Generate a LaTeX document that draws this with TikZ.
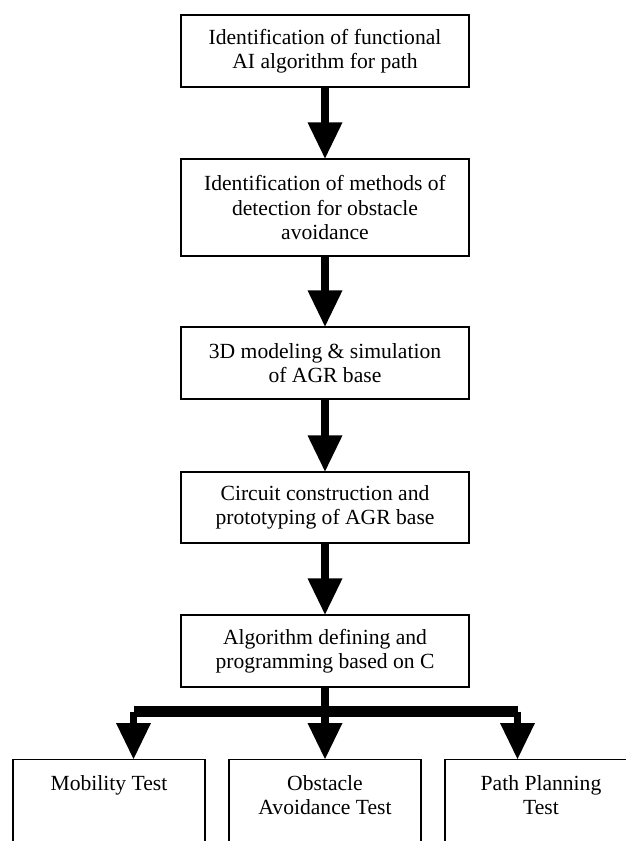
\documentclass[tikz,border=0pt]{standalone}
\usepackage{fontspec}
\setmainfont{Liberation Serif}
\usetikzlibrary{calc}
\tikzset{
  txt/.style={font=\fontsize{21.6bp}{24.5bp}\selectfont},
  box/.style={txt, draw, line width=1.2bp, fill=white, align=center, inner sep=0pt, minimum width=288bp},
  panel/.style={draw, line width=1.2bp, inner sep=0pt, minimum width=192bp, minimum height=140bp, anchor=north},
  lbl/.style={txt, align=center, inner sep=0pt, anchor=north},
  stemline/.style={line width=7.5bp},
  barline/.style={line width=11bp},
  headfill/.style={fill=black}
}
\newcommand\fatarrow[2]{%
  \draw[stemline] (#1) -- ($(#2)+(0,-35)$);
  \fill[headfill] ($(#2)+(-17.5,-36)$) -- (#2) -- ($(#2)+(17.5,-36)$) -- cycle;}
\begin{document}
\begin{tikzpicture}[x=1bp,y=-1bp]
\useasboundingbox (0,0) rectangle (626,841);
\clip (0,0) rectangle (626,841);
\fill[white] (0,0) rectangle (626,841);
\node[box, minimum height=72bp] (b1) at (325,51) {Identification of functional\\AI algorithm for path};
\node[box, minimum height=97bp] (b2) at (325,207.5) {Identification of methods of\\detection for obstacle\\avoidance};
\node[box, minimum height=72bp] (b3) at (325,363) {3D modeling \& simulation\\of AGR base};
\node[box, minimum height=71bp] (b4) at (325,507.5) {Circuit construction and\\prototyping of AGR base};
\node[box, minimum height=72bp] (b5) at (325,651) {Algorithm defining and\\programming based on C};
\node[panel] (tL) at (109,759) {};
\node[panel] (tM) at (325,759) {};
\node[panel] (tR) at (541,759) {};
\node[lbl] (lL) at ($(tL.north)+(0,16)$) {Mobility Test};
\node[lbl] (lM) at ($(tM.north)+(0,16)$) {Obstacle\\Avoidance Test};
\node[lbl] (lR) at ($(tR.north)+(0,16)$) {Path Planning\\Test};
\fatarrow{b1.south}{b2.north}
\fatarrow{b2.south}{b3.north}
\fatarrow{b3.south}{b4.north}
\fatarrow{b4.south}{b5.north}
\coordinate (jL) at (133.5,711.5);
\coordinate (jR) at (517.5,711.5);
\coordinate (aL) at (jL |- tL.north);
\coordinate (aR) at (jR |- tR.north);
\draw[barline] (jL) -- (jR);
\fatarrow{b5.south}{tM.north}
\fatarrow{jL}{aL}
\fatarrow{jR}{aR}
\end{tikzpicture}
\end{document}
